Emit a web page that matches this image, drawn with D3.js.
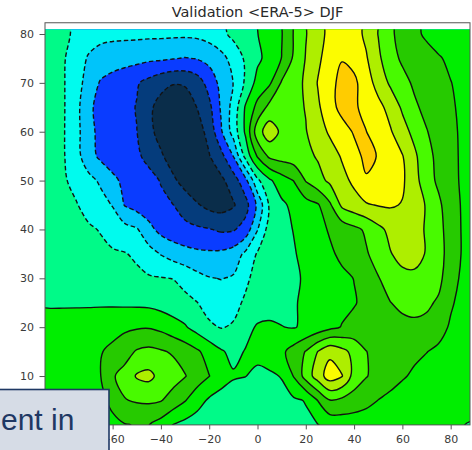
<!DOCTYPE html>
<html>
<head>
<meta charset="utf-8">
<script src="https://cdn.jsdelivr.net/npm/d3@7/dist/d3.min.js"></script>
<style>
  html, body { margin: 0; padding: 0; background: #ffffff; }
  svg { display: block; }
</style>
</head>
<body>
<svg id="chart" width="472" height="450"></svg>
<script>
// ---------------- DATA ----------------
const titleText = "Validation <ERA-5> DJF";
const overlayText = "ent in";
const xTicks = [-60, -40, -20, 0, 20, 40, 60, 80];
const yTicks = [10, 20, 30, 40, 50, 60, 70, 80];
const levels = [-4, -3, -2, -1, 0, 1, 2, 3, 4, 5, 6];
const bandColors = ["#0a2d4a", "#053c7c", "#0a3cff", "#00c4fa", "#00fbee", "#00fa88",
                    "#00ee00", "#26ca00", "#48fa00", "#aeee00", "#fcfc00", "#ffcc00"];
// grid nodes (lon west->east, lat north->south)
const gridLons = [-90,-85,-80,-75,-70,-65,-60,-55,-50,-45,-40,-35,-30,-25,-20,-15,-10,-5,0,5,10,15,20,25,30,35,40,45,50,55,60,65,70,75,80,85,90];
const gridLats = [85,80,75,70,65,60,55,50,45,40,35,30,25,20,15,10,5,0,-5];
// field values per latitude row
const rowLat85 = [0.6,0.45,0.2,-0.2,-0.5,-0.65,-0.7,-0.7,-0.7,-0.7,-0.7,-0.72,-0.72,-0.7,-0.55,-0.25,0.25,0.6,0.98,1.45,1.95,3.05,3.95,4.6,5.3,5.55,5.4,4.8,3.97,3.15,2.7,2.2,1.85,1.65,1.5,1.45,1.4];
const rowLat80 = [0.6,0.45,0.2,-0.2,-0.55,-0.75,-0.78,-0.78,-0.78,-0.8,-0.8,-0.82,-0.82,-0.78,-0.6,-0.25,0.25,0.6,0.98,1.45,1.95,3.05,3.95,4.6,5.3,5.55,5.4,4.8,3.97,3.15,2.7,2.2,1.85,1.65,1.5,1.45,1.4];
const rowLat75 = [0.55,0.3,0.05,-0.5,-1.1,-1.35,-1.5,-1.6,-1.7,-1.8,-1.85,-1.95,-2.05,-1.95,-1.7,-1.3,-0.65,0.15,0.8,1.35,2.02,3.15,4.05,4.8,5.5,5.95,5.7,5.1,4.2,3.35,2.85,2.6,2.35,2.07,1.85,1.7,1.6];
const rowLat70 = [0.55,0.3,0.03,-0.65,-1.35,-2.1,-2.4,-2.65,-2.9,-3.3,-3.7,-3.95,-3.9,-3.5,-2.6,-1.7,-0.98,0.15,1.35,1.85,3.1,3.6,4.15,5.05,5.7,6.3,6.2,5.5,4.6,3.85,3.3,2.85,2.6,2.35,2.02,1.8,1.65];
const rowLat65 = [0.5,0.3,0.03,-0.65,-1.9,-2.15,-2.4,-2.7,-3.05,-3.8,-4.35,-4.6,-4.5,-3.98,-3.25,-1.85,-0.65,1.1,2.3,3.3,3.5,3.7,4.05,4.85,5.6,6.35,6.15,5.7,5.3,4.65,3.85,3.15,2.75,2.45,2.1,1.85,1.7];
const rowLat60 = [0.5,0.3,0.02,-0.7,-1.65,-2.3,-2.5,-2.75,-2.98,-3.7,-4.4,-4.8,-4.85,-4.4,-3.7,-2.1,-0.6,1.15,3.6,4.55,3.8,3.55,3.95,4.55,5.15,5.55,6.1,6.02,5.5,5.1,4.4,3.7,3.05,2.6,2.2,1.85,1.7];
const rowLat55 = [0.5,0.28,0.03,-0.65,-1.6,-2.2,-2.45,-2.65,-2.85,-3.25,-3.85,-4.5,-4.85,-4.75,-4.05,-3.3,-1.98,0.3,2.1,3.2,3.4,3.55,3.75,4.1,4.55,5.1,5.65,6.25,5.95,5.5,5.05,4.2,3.3,2.75,2.25,1.85,1.7];
const rowLat50 = [0.55,0.35,0.08,-0.25,-0.7,-1.15,-1.8,-2.2,-2.45,-2.7,-3.05,-3.8,-4.4,-4.85,-4.75,-4.2,-3.5,-2.3,-0.2,0.85,1.55,2.02,3.05,3.65,4.2,4.7,5.2,5.9,5.97,5.55,5.15,4.35,3.45,2.8,2.3,1.85,1.7];
const rowLat45 = [0.6,0.45,0.25,0.05,-0.3,-0.65,-1.05,-2.05,-2.4,-2.6,-2.8,-2.98,-3.4,-3.9,-4.3,-4.4,-4.1,-3.4,-1.8,0.15,0.8,1.25,1.6,1.9,2.85,4.2,4.6,4.9,5.05,5.1,4.95,4.6,3.9,3.2,2.4,1.9,1.7];
const rowLat40 = [0.65,0.55,0.4,0.25,0.12,-0.05,-0.4,-0.65,-0.9,-1.7,-2.3,-2.6,-2.75,-2.85,-2.95,-3.15,-3.1,-2.6,-1.05,0.45,0.75,1.03,1.35,1.7,2.1,2.4,2.75,3.15,3.75,4.25,4.5,4.35,3.9,3.3,2.55,1.9,1.7];
const rowLat35 = [0.7,0.6,0.5,0.4,0.3,0.2,0.12,0.05,-0.15,-0.6,-1.05,-1.4,-1.65,-1.8,-1.85,-1.8,-1.55,-0.8,0.1,0.5,0.75,0.93,1.25,1.5,1.85,2.2,2.5,2.9,3.4,3.95,4.3,4.25,3.95,3.35,2.6,1.9,1.7];
const rowLat30 = [0.75,0.7,0.65,0.6,0.55,0.5,0.4,0.3,0.2,0.1,0.05,-0.02,-0.3,-0.7,-0.95,-1.03,-0.9,-0.2,0.35,0.6,0.75,0.87,1.1,1.35,1.6,1.8,2.02,2.45,2.95,3.4,3.75,3.85,3.7,3.3,2.3,1.85,1.65];
const rowLat25 = [0.95,0.94,0.93,0.92,0.9,0.88,0.85,0.82,0.8,0.75,0.6,0.45,0.25,0.02,-0.35,-0.5,-0.3,0.15,0.45,0.6,0.75,0.93,1.15,1.35,1.55,1.75,1.93,2.25,2.65,2.98,3.2,3.3,3.2,2.85,2.1,1.75,1.6];
const rowLat20 = [1.15,1.2,1.25,1.3,1.4,1.55,1.7,1.82,1.9,1.93,1.75,1.4,1.1,0.6,0.15,-0.05,0.1,0.7,1.1,1.15,1.02,0.95,1.15,1.4,1.75,2.05,2.3,2.45,2.55,2.65,2.75,2.8,2.7,2.3,1.9,1.7,1.55];
const rowLat15 = [1.3,1.35,1.45,1.55,1.7,1.95,2.2,2.6,3.1,3.25,3.1,2.9,2.55,2.15,1.6,1.1,0.75,1.05,1.25,1.5,1.8,2.4,3.05,4.02,4.75,4.3,3.7,3.02,2.7,2.5,2.35,2.2,2.02,1.85,1.7,1.6,1.5];
const rowLat10 = [1.4,1.5,1.6,1.72,1.85,1.98,2.9,3.35,4.1,4.25,3.7,3.4,3.05,2.5,2.02,1.5,1.1,1.02,0.8,0.85,1.05,2.05,3.4,4.5,5.5,5.05,3.6,3.05,2.7,2.4,2.1,1.85,1.7,1.6,1.5,1.45,1.4];
const rowLat5  = [1.35,1.4,1.45,1.55,1.7,1.85,2.15,2.95,3.1,3.15,3.05,2.6,2.05,1.4,0.85,0.55,0.45,0.4,0.45,0.55,0.7,0.85,1.05,2.02,2.95,2.75,2.55,2.3,1.98,1.75,1.55,1.45,1.4,1.35,1.3,1.25,1.15];
const rowLat0  = [1.3,1.35,1.4,1.5,1.6,1.75,1.85,1.95,2.05,2.02,1.6,0.98,0.7,0.5,0.4,0.35,0.3,0.3,0.35,0.4,0.5,0.65,0.8,0.97,1.3,1.45,1.45,1.4,1.35,1.3,1.25,1.2,1.15,1.1,1.05,1.01,0.95];
const rowLatM5 = [1.3,1.35,1.4,1.5,1.6,1.75,1.85,1.95,2.05,2.02,1.6,0.98,0.7,0.5,0.4,0.35,0.3,0.3,0.35,0.4,0.5,0.65,0.8,0.97,1.3,1.45,1.45,1.4,1.35,1.3,1.25,1.2,1.15,1.1,1.05,1.01,0.95];
const fieldRows = [rowLat85,rowLat80,rowLat75,rowLat70,rowLat65,rowLat60,rowLat55,rowLat50,rowLat45,
                   rowLat40,rowLat35,rowLat30,rowLat25,rowLat20,rowLat15,rowLat10,rowLat5,rowLat0,rowLatM5];

// ---------------- DRAW ----------------
const svg = d3.select("#chart");
const lonExtent = [-88, 88];
const dataTop = 80.9, frameTop = 82.3;
const x = d3.scaleLinear().domain(lonExtent).range([45, 470]);
const y = d3.scaleLinear().domain([0, 80]).range([424.9, 34]);

svg.append("defs").append("clipPath").attr("id", "clip").append("rect")
  .attr("x", x(lonExtent[0])).attr("y", y(dataTop))
  .attr("width", x(lonExtent[1]) - x(lonExtent[0]))
  .attr("height", y(0) - y(dataTop));

const nx = gridLons.length, ny = gridLats.length;
const dLon = gridLons[1] - gridLons[0], dLat = gridLats[1] - gridLats[0];
const values = fieldRows.flat();
const contours = d3.contours().size([nx, ny]).thresholds(levels)(values);

const toPx = p => [x(gridLons[0] + (p[0] - 0.5) * dLon), y(gridLats[0] + (p[1] - 0.5) * dLat)];
const ringLine = d3.line().curve(d3.curveCatmullRomClosed.alpha(0.5));
function pathFor(geom) {
  let d = "";
  geom.coordinates.forEach(poly => poly.forEach(ring => {
    const pts = ring.slice(0, -1).map(toPx);
    if (pts.length > 2) d += ringLine(pts);
  }));
  return d;
}

const plot = svg.append("g").attr("clip-path", "url(#clip)");
plot.append("rect")
  .attr("x", x(lonExtent[0])).attr("y", y(dataTop))
  .attr("width", x(lonExtent[1]) - x(lonExtent[0]))
  .attr("height", y(0) - y(dataTop))
  .attr("fill", bandColors[0]);
contours.forEach((c, i) => {
  plot.append("path").attr("d", pathFor(c)).attr("fill", bandColors[i + 1]).attr("fill-rule", "evenodd");
});
contours.forEach(c => {
  plot.append("path").attr("d", pathFor(c))
    .attr("fill", "none").attr("stroke", "#121212").attr("stroke-width", 1.4)
    .attr("stroke-linejoin", "round")
    .attr("stroke-dasharray", c.value <= 0 ? "4.5,2.6" : null);
});

// frame
svg.append("rect")
  .attr("x", x(lonExtent[0])).attr("y", y(frameTop))
  .attr("width", x(lonExtent[1]) - x(lonExtent[0]))
  .attr("height", y(0) - y(frameTop))
  .attr("fill", "none").attr("stroke", "#555").attr("stroke-width", 1);

// axes
const axL = svg.append("g").attr("transform", `translate(${x(lonExtent[0])},0)`)
  .call(d3.axisLeft(y).tickValues(yTicks).tickSize(5.5).tickPadding(5.5));
const axB = svg.append("g").attr("transform", `translate(0,${y(0)})`)
  .call(d3.axisBottom(x).tickValues(xTicks).tickSize(4.5).tickPadding(6));
[axL, axB].forEach(a => {
  a.select(".domain").remove();
  a.attr("font-family", "DejaVu Sans").attr("font-size", 11);
  a.selectAll("line").attr("stroke", "#555");
  a.selectAll("text").attr("fill", "#3a3a3a");
});

// title
svg.append("text").attr("x", x(0)).attr("y", 17)
  .attr("text-anchor", "middle").attr("font-family", "DejaVu Sans").attr("font-size", 14.5)
  .attr("fill", "#2a2a2a").text(titleText);

// overlay box from the slide
svg.append("rect").attr("x", -2).attr("y", 389.5).attr("width", 111).attr("height", 70)
  .attr("fill", "#d6dce6").attr("stroke", "#1f3864").attr("stroke-width", 1.6);
svg.append("text").attr("x", 1).attr("y", 430)
  .attr("font-family", "Liberation Sans").attr("font-size", 30)
  .attr("fill", "#1f3864").text(overlayText);
</script>
</body>
</html>
